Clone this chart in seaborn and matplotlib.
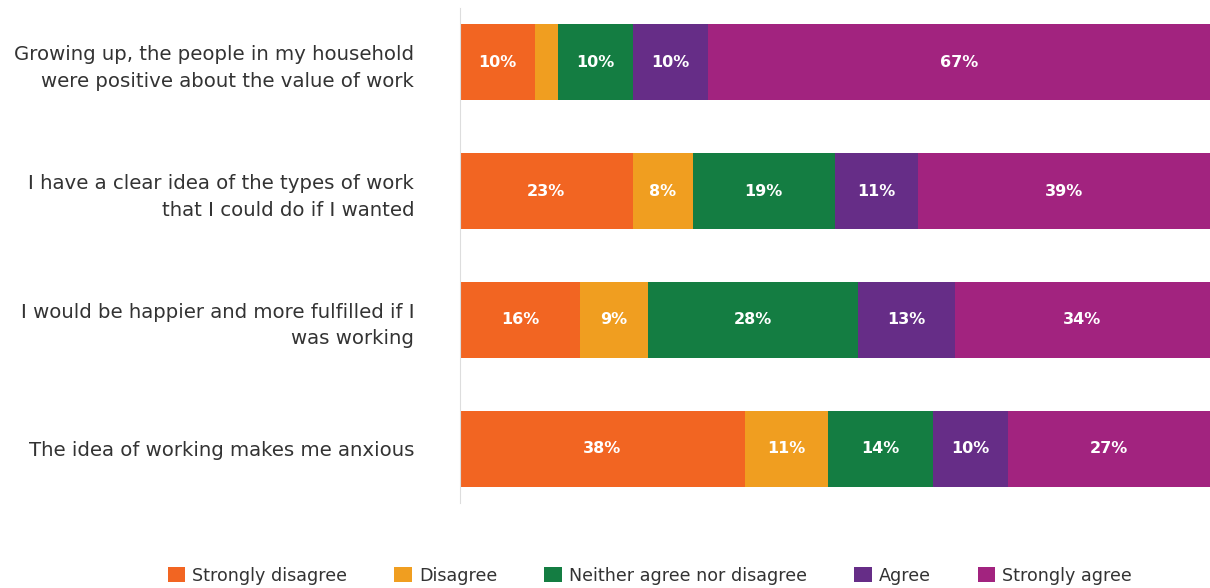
import matplotlib
matplotlib.use("Agg")
import matplotlib.pyplot as plt
import seaborn as sns
import numpy as np
import pandas as pd
from matplotlib.patches import Patch

categories = [
    "Growing up, the people in my household\nwere positive about the value of work",
    "I have a clear idea of the types of work\nthat I could do if I wanted",
    "I would be happier and more fulfilled if I\nwas working",
    "The idea of working makes me anxious",
]
series = ["Strongly disagree", "Disagree", "Neither agree nor disagree", "Agree", "Strongly agree"]
strongly_disagree = [10, 23, 16, 38]
disagree = [3, 8, 9, 11]
neither = [10, 19, 28, 14]
agree = [10, 11, 13, 10]
strongly_agree = [67, 39, 34, 27]
colors = ["#F26522", "#F09E20", "#147D42", "#662D87", "#A2237F"]

values = [strongly_disagree, disagree, neither, agree, strongly_agree]

sns.set_theme(style="white")
plt.rcParams["font.family"] = ["DejaVu Sans"]

fig = plt.figure(figsize=(12.1, 5.88), dpi=100)
ax = fig.add_axes([460 / 1210, 1 - 503 / 588, 750 / 1210, 495 / 588])

cum = np.cumsum(np.array(values), axis=0)
for i in range(len(series) - 1, -1, -1):
    df = pd.DataFrame({"cat": categories, "val": cum[i]})
    sns.barplot(data=df, x="val", y="cat", orient="h", color=colors[i],
                width=0.59, ax=ax, saturation=1, edgecolor="none", linewidth=0)

for i in range(len(series)):
    for j in range(len(categories)):
        v = values[i][j]
        if v < 5:
            continue
        center = cum[i][j] - v / 2
        ax.text(center, j, f"{v}%", ha="center", va="center", color="white",
                fontsize=11.5, fontweight="bold")

ax.set_xlim(0, 100)
ax.set_ylim(3.42, -0.42)
ax.set_xlabel("")
ax.set_ylabel("")
ax.set_xticks([])
for s in ["top", "right", "bottom"]:
    ax.spines[s].set_visible(False)
ax.spines["left"].set_color("#dddddd")
ax.spines["left"].set_linewidth(0.8)
ax.tick_params(axis="y", length=0, pad=33, labelsize=14.2, labelcolor="#333333")
for lbl in ax.get_yticklabels():
    lbl.set_horizontalalignment("right")
    lbl.set_multialignment("right")
    lbl.set_linespacing(1.5)

handles = [Patch(facecolor=c, edgecolor="none") for c in colors]
fig.legend(handles, series, loc="center", bbox_to_anchor=(0.537, 0.021), ncol=5,
           frameon=False, fontsize=12.6, handlelength=1.0, handleheight=1.0,
           handletextpad=0.4, columnspacing=2.7, labelcolor="#333333")

fig.savefig("out.png", dpi=100)
